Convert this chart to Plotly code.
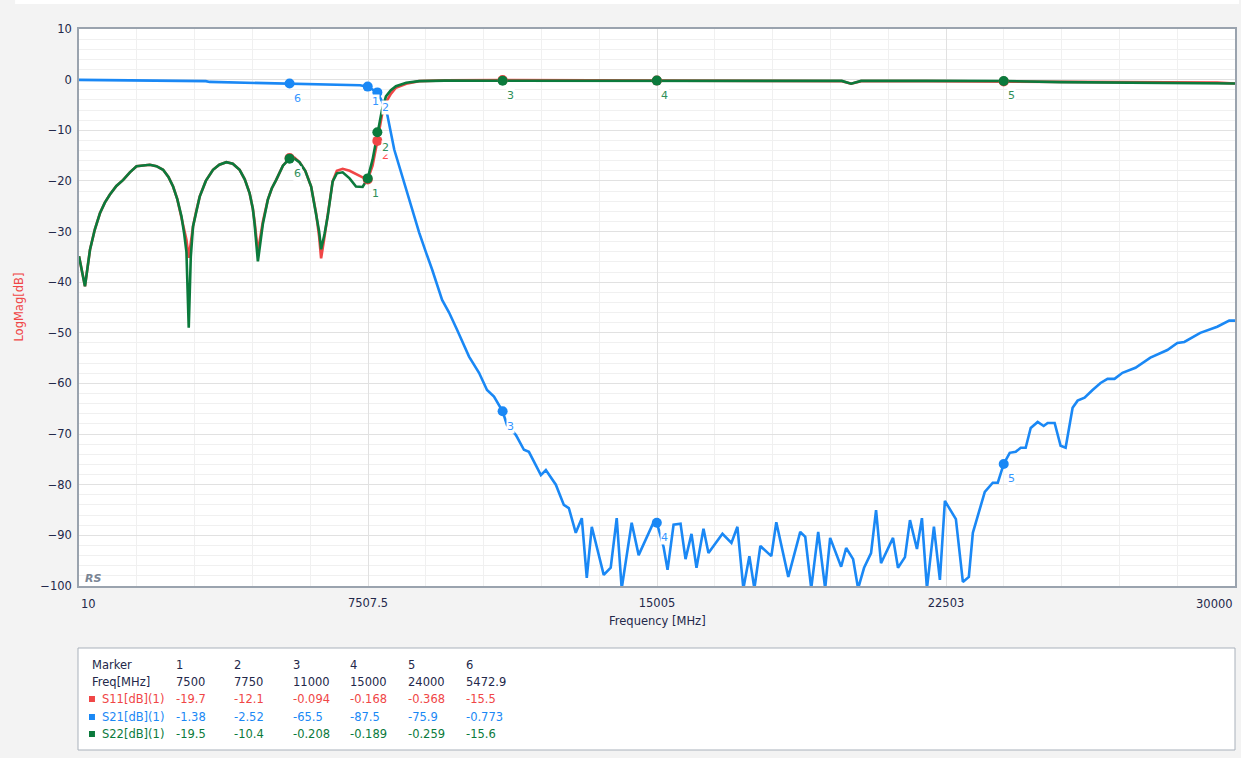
import plotly.graph_objects as go

# ---------------- data ----------------
s21_freq = [10, 940, 1000, 3300, 3400, 5472.9, 6765, 7300, 7500, 7750, 7880,
            8007, 8188, 8395, 8654, 8835, 9016, 9171, 9430, 9611, 9818,
            10129, 10388, 10595, 10776, 11000, 11113, 11346, 11553, 11682, 11993,
            12122, 12381, 12588, 12717, 12898, 13054, 13183, 13313, 13623, 13804,
            13960, 14089, 14348, 14529, 14917, 15000, 15176, 15279, 15435, 15616,
            15745, 15900, 16030, 16211, 16340, 16703, 16936, 17091, 17246, 17401,
            17531, 17686, 17971, 18100, 18411, 18721, 18851, 19006, 19187, 19368,
            19497, 19782, 19912, 20093, 20222, 20377, 20558, 20688, 20817, 21128,
            21257, 21438, 21568, 21749, 21878, 22008, 22189, 22344, 22474, 22759,
            22940, 23095, 23199, 23509, 23716, 23846, 24000, 24156, 24311, 24441,
            24570, 24700, 24881, 25036, 25140, 25321, 25476, 25606, 25787, 25917,
            26098, 26305, 26512, 26693, 26874, 27081, 27417, 27805, 28245, 28504,
            28685, 29099, 29539, 29850, 30000]
s21_db = [-0.05, -0.1, -0.2, -0.3, -0.45, -0.773, -0.9, -1.1, -1.38, -2.52, -4.4,
          -6.9, -13.8, -19.2, -25.7, -30.2, -34.2, -37.5, -43.5, -46.0, -49.4,
          -54.7, -57.9, -61.3, -62.6, -65.5, -68.2, -70.2, -73.1, -73.5, -78.1,
          -77.1, -80.0, -84.0, -84.6, -89.5, -86.6, -98.4, -88.3, -97.8, -96.4,
          -86.6, -100.5, -87.5, -93.9, -87.4, -87.5, -92.3, -96.8, -87.9, -87.7,
          -94.7, -89.7, -96.4, -88.7, -93.5, -89.7, -91.5, -88.3, -100.5, -94.1,
          -100.5, -92.1, -94.1, -87.4, -98.2, -89.3, -90.3, -100.5, -89.3, -100.5,
          -90.5, -96.2, -92.5, -94.7, -100.5, -96.4, -93.5, -85.0, -95.5, -90.5,
          -96.4, -94.3, -87.0, -92.7, -86.6, -100.5, -88.3, -98.8, -83.2, -86.8,
          -99.2, -98.2, -89.5, -81.4, -79.6, -79.6, -75.9, -73.7, -73.5, -72.7,
          -72.7, -68.8, -67.6, -68.4, -67.8, -67.8, -72.3, -72.7, -64.8, -63.4,
          -62.8, -61.3, -59.9, -59.1, -59.1, -57.9, -56.9, -54.9, -53.4, -52.0,
          -51.8, -50.0, -48.8, -47.6, -47.6]

refl_freq = [10, 165, 295, 420, 553, 680, 812, 980, 1157, 1330, 1503, 1680, 1847,
             2020, 2192, 2330, 2451, 2560, 2668, 2740, 2797, 2857, 2910, 2968, 3050,
             3141, 3300, 3486, 3650, 3832, 4000, 4177, 4310, 4435, 4520, 4565, 4651,
             4720, 4780, 4909, 5010, 5126, 5300, 5472.9, 5600, 5730, 5880, 6032, 6161,
             6240, 6291, 6380, 6462, 6591, 6700, 6850, 7030, 7196, 7368, 7500, 7626,
             7750, 7870, 7973, 8100, 8232, 8500, 8835, 9500, 11000, 13000, 15000, 17000,
             19800, 20041, 20300, 22000, 24000, 25476, 27000, 29539, 30000]
s11_db = [-34.9, -40.8, -33.6, -29.6, -26.4, -24.3, -22.7, -21.0, -19.8, -18.3, -17.1,
          -16.9, -16.8, -17.1, -17.8, -19.2, -21.1, -23.6, -27.0, -29.8, -31.6, -35.2,
          -32.5, -29.0, -26.0, -23.1, -20.0, -17.8, -16.8, -16.3, -16.6, -17.8, -19.7,
          -22.4, -25.5, -28.0, -34.0, -31.0, -28.0, -23.7, -21.5, -19.8, -17.0, -15.5,
          -15.4, -16.3, -18.0, -21.1, -26.4, -31.0, -35.3, -31.0, -27.0, -20.1, -18.0,
          -17.6, -18.0, -18.7, -19.3, -19.7, -17.0, -12.1, -7.0, -4.5, -2.8, -1.6,
          -0.8, -0.3, -0.15, -0.094, -0.15, -0.168, -0.2, -0.3, -0.8, -0.3, -0.3,
          -0.368, -0.5, -0.6, -0.6, -0.75]
s22_db = [-34.9, -40.8, -33.6, -29.6, -26.4, -24.3, -22.7, -21.0, -19.8, -18.3, -17.1,
          -16.9, -16.8, -17.1, -17.8, -19.2, -21.1, -23.6, -27.0, -30.5, -34.0, -49.0,
          -35.0, -29.0, -26.0, -23.1, -20.0, -17.8, -16.8, -16.3, -16.6, -17.8, -19.7,
          -22.4, -25.5, -28.5, -35.9, -32.0, -28.5, -23.7, -21.5, -19.8, -17.0, -15.6,
          -15.6, -16.3, -18.0, -21.1, -26.4, -30.0, -33.5, -30.5, -27.0, -20.1, -18.5,
          -18.3, -19.5, -21.1, -21.2, -19.5, -15.8, -10.4, -6.0, -3.3, -2.1, -1.3,
          -0.6, -0.3, -0.2, -0.208, -0.2, -0.189, -0.2, -0.25, -0.8, -0.25, -0.25,
          -0.259, -0.5, -0.55, -0.6, -0.75]

marker_ids = ["1", "2", "3", "4", "5", "6"]
marker_freq = [7500, 7750, 11000, 15000, 24000, 5472.9]
marker_s11 = [-19.7, -12.1, -0.094, -0.168, -0.368, -15.5]
marker_s21 = [-1.38, -2.52, -65.5, -87.5, -75.9, -0.773]
marker_s22 = [-19.5, -10.4, -0.208, -0.189, -0.259, -15.6]

x_tick_vals = [7507.5, 15005, 22502.5]
x_tick_text = ["7507.5", "15005", "22503"]
x_end_labels = [(10, "10"), (30000, "30000")]

trace_names = ["S11[dB](1)", "S21[dB](1)", "S22[dB](1)"]

# ---------------- styling ----------------
RED = "#f04646"
BLUE = "#1a88f5"
GREEN = "#0b7a3c"
LBL = {RED: "#ff4d4d", BLUE: "#3596ff", GREEN: "#2f8f5a"}
TXT = "#23284a"
FONT = "DejaVu Sans"
W, H = 1241, 758
L, R, T, B = 79, 4, 29, 172
PW, PH = W - L - R, H - T - B


def px(x):
    return (x - L) / PW


def py(y):
    return (H - B - y) / PH


fig = go.Figure()

series = [(s11_db, refl_freq, RED, marker_s11, trace_names[0]),
          (s21_db, s21_freq, BLUE, marker_s21, trace_names[1]),
          (s22_db, refl_freq, GREEN, marker_s22, trace_names[2])]

for vals, freqs, col, mvals, name in series:
    fig.add_trace(go.Scatter(x=freqs, y=vals, mode="lines", name=name,
                             line=dict(color=col, width=2.6), showlegend=False))
for vals, freqs, col, mvals, name in series:
    fig.add_trace(go.Scatter(x=marker_freq, y=mvals, mode="markers", showlegend=False,
                             marker=dict(color=col, size=10, symbol="circle")))

annotations = []
for vals, freqs, col, mvals, name in series:
    for mid, f, v in zip(marker_ids, marker_freq, mvals):
        annotations.append(dict(x=f, y=v, xref="x", yref="y", text=mid, showarrow=False,
                                xshift=8, yshift=-15, bgcolor="white", borderpad=0,
                                font=dict(family=FONT, size=11, color=LBL[col])))

for xv, t in x_end_labels:
    annotations.append(dict(x=xv, y=py(604), xref="x", yref="paper", text=t, showarrow=False,
                            xanchor="left" if xv == 10 else "right", yanchor="middle",
                            font=dict(family=FONT, size=11.5, color=TXT)))

annotations.append(dict(x=0.5, y=py(621), xref="paper", yref="paper", text="Frequency [MHz]",
                        showarrow=False, yanchor="middle",
                        font=dict(family=FONT, size=11.5, color=TXT)))
annotations.append(dict(x=px(18), y=0.5, xref="paper", yref="paper", text="LogMag[dB]",
                        showarrow=False, textangle=-90, xanchor="center",
                        font=dict(family=FONT, size=11.5, color=RED)))
annotations.append(dict(x=px(83), y=py(578), xref="paper", yref="paper", text="<i><b>RS</b></i>",
                        showarrow=False, xanchor="left", yanchor="middle",
                        font=dict(family=FONT, size=11, color="#7a8594")))

# ---------------- marker table ----------------
row_y = [665, 682, 699, 717, 734]
col_x = [174, 232, 291, 348, 407, 465]
rows = [("Marker", marker_ids, TXT),
        ("Freq[MHz]", [str(f) for f in marker_freq], TXT),
        (trace_names[0], [str(v) for v in marker_s11], RED),
        (trace_names[1], [str(v) for v in marker_s21], BLUE),
        (trace_names[2], [str(v) for v in marker_s22], GREEN)]
shapes = [dict(type="rect", xref="paper", yref="paper", x0=px(78), x1=px(1237),
               y0=py(648), y1=py(750), fillcolor="white", line=dict(color="#a9b1bb", width=1),
               layer="below"),
          dict(type="rect", xref="paper", yref="paper", x0=px(15), x1=px(W),
               y0=py(0), y1=py(4), fillcolor="white", line=dict(width=0), layer="below")]
for i, (label, vals, col) in enumerate(rows):
    lx = 90
    if i >= 2:
        shapes.append(dict(type="rect", xref="paper", yref="paper", x0=px(89), x1=px(95),
                           y0=py(row_y[i] - 3), y1=py(row_y[i] + 3), fillcolor=col,
                           line=dict(width=0)))
        lx = 100
    annotations.append(dict(x=px(lx), y=py(row_y[i]), xref="paper", yref="paper", text=label,
                            showarrow=False, xanchor="left", yanchor="middle",
                            font=dict(family=FONT, size=11.5, color=col)))
    for cx, v in zip(col_x, vals):
        annotations.append(dict(x=px(cx), y=py(row_y[i]), xref="paper", yref="paper", text=v,
                                showarrow=False, xanchor="left", yanchor="middle",
                                font=dict(family=FONT, size=11.5, color=col)))

fig.update_layout(
    width=W, height=H,
    margin=dict(l=L, r=R, t=T, b=B),
    paper_bgcolor="#f3f3f3", plot_bgcolor="white",
    font=dict(family=FONT, size=11.5, color=TXT),
    annotations=annotations, shapes=shapes,
    xaxis=dict(range=[10, 30000], tickmode="array", tickvals=x_tick_vals, ticktext=x_tick_text,
               showgrid=True, gridcolor="#e1e1e1", gridwidth=1.3,
               minor=dict(tickmode="linear", tick0=10, dtick=1499.5, showgrid=True,
                          gridcolor="#f0f0f0", gridwidth=1),
               showline=True, linecolor="#9aa3ae", linewidth=1.5, mirror=True,
               zeroline=False, ticks="outside", ticklen=5, tickcolor="rgba(0,0,0,0)",
               tickfont=dict(family=FONT, size=11.5, color=TXT)),
    yaxis=dict(range=[-100, 10], tickmode="linear", tick0=0, dtick=10,
               showgrid=True, gridcolor="#e1e1e1", gridwidth=1.3,
               minor=dict(tickmode="linear", tick0=0, dtick=2, showgrid=True,
                          gridcolor="#f0f0f0", gridwidth=1),
               showline=True, linecolor="#9aa3ae", linewidth=1.5, mirror=True,
               zeroline=False, ticks="outside", ticklen=3, tickcolor="rgba(0,0,0,0)",
               tickfont=dict(family=FONT, size=11.5, color=TXT)),
)

fig.write_html(
    "out.html",
    config={"displayModeBar": False},
    post_script="document.body.style.margin='0';document.body.style.overflow='hidden';"
                "document.body.style.background='#f3f3f3';",
)
